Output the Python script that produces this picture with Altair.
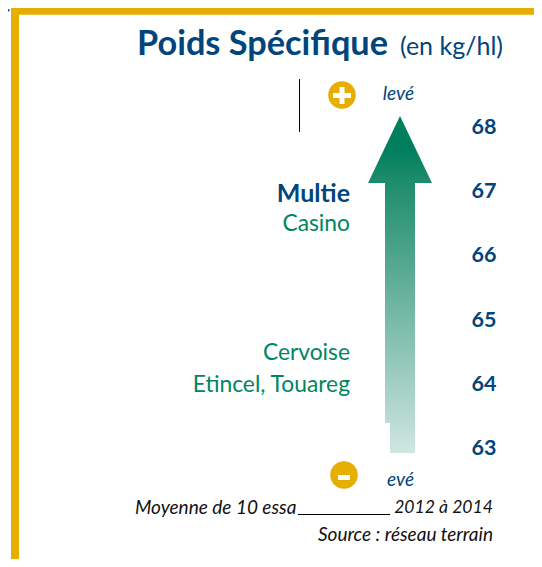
import altair as alt
import pandas as pd

BLUE = "#00457C"
GREEN = "#00855F"
GOLD = "#E6AE00"
FONT = "Lato"


# page-pixel helper: the plot covers the page from (8, 8) to (534, 559)
def val(py):
    return 63 + (447 - py) / 64.2


PW, PH = 526, 551
xs = alt.Scale(domain=[8, 534], range=[0, PW])
ys = alt.Scale(domain=[val(559), val(8)], range=[PH, 0])
X = alt.X("x:Q", scale=xs, axis=None)
Y = alt.Y("y:Q", scale=ys, axis=None)

ticks = [63, 64, 65, 66, 67, 68]
wheat_bold = ["Multie"]
wheat_bold_v = [67]
wheat = ["Casino", "Cervoise", "Etincel, Touareg"]
wheat_v = [66.5, 64.5, 64.0]

head_x = [368, 400, 432]
head_top = [183, 116, 183]
head_bot = [183, 183, 183]


def grad(stops):
    return alt.Gradient(
        gradient="linear", x1=0, x2=0, y1=0, y2=1,
        stops=[alt.GradientStop(offset=o, color=c) for o, c in stops],
    )


head = alt.Chart(pd.DataFrame({
    "x": head_x,
    "y": [val(p) for p in head_top],
    "y2": [val(p) for p in head_bot],
})).mark_area(color=grad([(0, "#007F5F"), (0.5, "#007F5F"), (1, "#1F8D6C")])).encode(x=X, y=Y, y2="y2:Q")


def rects(rows, color, **kw):
    df = pd.DataFrame(rows, columns=["x", "x2", "p", "p2"])
    df["y"] = df.p.map(val)
    df["y2"] = df.p2.map(val)
    return alt.Chart(df).mark_rect(color=color, **kw).encode(x=X, x2="x2:Q", y=Y, y2="y2:Q")


stem1 = rects([(385, 415, 183, 423)], grad([(0, "#1F8D6C"), (1, "#BCDCD4")]))
stem2 = rects([(390, 415, 423, 453)], grad([(0, "#BCDCD4"), (1, "#D0E6E1")]))

frame = rects([(11, 19, 8, 559), (11, 534, 8, 14.7)], GOLD)
dash = rects([(8, 9.5, 9, 11.5)], "#1F5A8C")
lines = rects([(299, 300, 79, 132), (298, 390, 514, 515)], "#000000")


def text(rows, **kw):
    df = pd.DataFrame(rows, columns=["t", "x", "p"])
    df["y"] = df.p.map(val)
    return alt.Chart(df).mark_text(font=FONT, baseline="middle", **kw).encode(x=X, y=Y, text="t:N")


def vtext(labels, x, values, **kw):
    df = pd.DataFrame({"t": [str(l) for l in labels], "x": x, "y": values})
    return alt.Chart(df).mark_text(font=FONT, baseline="middle", **kw).encode(x=X, y=Y, text="t:N")


title = text([("Poids Spécifique", 388, 45)], align="right", fontSize=34.3, fontWeight="bold", color=BLUE)
unit = text([("(en kg/hl)", 503, 47)], align="right", fontSize=25, color=BLUE)
tick_l = vtext(ticks, 484, ticks, align="center", fontSize=21.5, fontWeight="bold", color=BLUE, dy=2)
names_b = vtext(wheat_bold, 350, wheat_bold_v, align="right", fontSize=25, fontWeight="bold", color=BLUE, dy=4)
names = vtext(wheat, 350, wheat_v, align="right", fontSize=22.8, color=GREEN, dy=2)

leve = text([("levé", 414, 94), ("evé", 414, 480)], align="right", fontSize=19, fontStyle="italic", color=BLUE)
note_y = text([("2012 à 2014", 493, 508)], align="right", fontSize=17.6, fontStyle="italic", color="#111111")
note_r = text([("Source : réseau terrain", 493, 535)], align="right", fontSize=19, fontStyle="italic", color="#111111")
note_l = text([("Moyenne de 10 essa", 135, 508)], align="left", fontSize=19, fontStyle="italic", color="#111111")

disc_df = pd.DataFrame({"x": [342, 344], "p": [95, 475]})
disc_df["y"] = disc_df.p.map(val)
discs = alt.Chart(disc_df).mark_point(filled=True, opacity=1, color=GOLD, size=760, shape="circle").encode(x=X, y=Y)
plus = rects([(333, 351, 93, 98), (339.5, 344.5, 87, 104)], "#FFFFFF")
minus = rects([(338, 350, 475, 480)], "#FFFFFF", cornerRadius=1)

chart = alt.layer(
    frame, dash, lines, head, stem1, stem2, discs, plus, minus,
    title, unit, tick_l, names_b, names, leve, note_y, note_r, note_l,
).properties(
    width=PW, height=PH, background="white", padding=0,
    autosize=alt.AutoSizeParams(type="none"),
).configure_view(stroke=None)

chart.save("out.html", embed_options={"renderer": "svg", "actions": False})
